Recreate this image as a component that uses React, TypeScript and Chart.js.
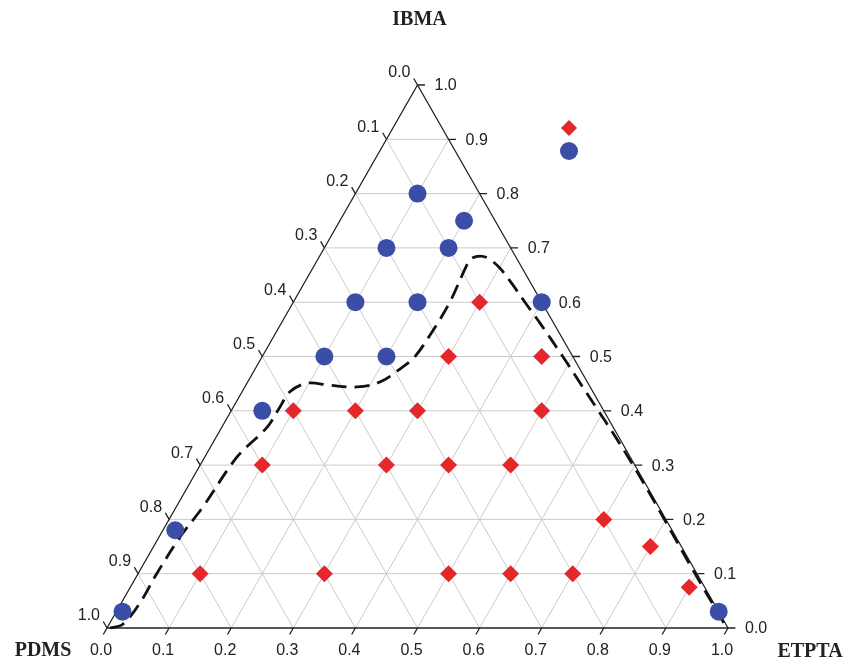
import React, { useEffect, useRef } from "react";
import { Chart, registerables } from "chart.js";

Chart.register(...registerables);

// Tick values along each side (fractions)
const tickValues = [0, 0.1, 0.2, 0.3, 0.4, 0.5, 0.6, 0.7, 0.8, 0.9, 1.0];
const tickLabels = ["0.0", "0.1", "0.2", "0.3", "0.4", "0.5", "0.6", "0.7", "0.8", "0.9", "1.0"];

// Red diamonds (ETPTA, IBMA fractions; PDMS = 1 - ETPTA - IBMA)
const redETPTA = [0.3, 0.3, 0.45, 0.1, 0.2, 0.3, 0.5, 0.1, 0.3, 0.4, 0.5, 0.7, 0.8, 0.9, 0.1, 0.3, 0.5, 0.6, 0.7];
const redIBMA = [0.6, 0.5, 0.5, 0.4, 0.4, 0.4, 0.4, 0.3, 0.3, 0.3, 0.3, 0.2, 0.15, 0.075, 0.1, 0.1, 0.1, 0.1, 0.1];

// Blue circles
const blueETPTA = [0.1, 0.2, 0.1, 0.2, 0.1, 0.2, 0.4, 0.1, 0.2, 0.05, 0.02, 0.01, 0.97];
const blueIBMA = [0.8, 0.75, 0.7, 0.7, 0.6, 0.6, 0.6, 0.5, 0.5, 0.4, 0.18, 0.03, 0.03];

// Dashed boundary curve
const curveETPTA = [0.005, 0.022, 0.03, 0.03, 0.034, 0.043, 0.052, 0.073, 0.075, 0.077, 0.097, 0.135, 0.181, 0.213, 0.236, 0.246, 0.251, 0.252, 0.245, 0.247, 0.258, 0.273, 0.301, 0.334, 0.373, 0.416, 0.485, 0.53, 0.693, 0.896, 0.996];
const curveIBMA = [0.0, 0.007, 0.046, 0.101, 0.168, 0.223, 0.315, 0.37, 0.407, 0.435, 0.451, 0.447, 0.444, 0.453, 0.481, 0.499, 0.549, 0.6, 0.672, 0.681, 0.685, 0.681, 0.663, 0.635, 0.6, 0.562, 0.499, 0.457, 0.304, 0.101, 0.002];

const H = Math.sqrt(3) / 2;
const toXY = (e: number, i: number) => ({ x: e + i / 2, y: i * H });
const GAP = { x: 0, y: null as any };

const RED = "#e5262b";
const BLUE = "#3a4ea7";

export default function App() {
  const ref = useRef<HTMLCanvasElement | null>(null);

  useEffect(() => {
    document.body.style.margin = "0";
    const canvas = ref.current!;

    // grid lines
    const grid: any[] = [];
    for (let k = 1; k <= 9; k++) {
      const v = tickValues[k];
      grid.push(toXY(0, v), toXY(1 - v, v), GAP);
      grid.push(toXY(v, 0), toXY(v, 1 - v), GAP);
      grid.push(toXY(0, 1 - v), toXY(1 - v, 0), GAP);
    }
    const edges = [toXY(0, 0), toXY(1, 0), toXY(0, 1), toXY(0, 0)];

    const L = 0.012;
    const ticks: any[] = [];
    tickValues.forEach((v) => {
      const a = toXY(0, 1 - v);
      ticks.push(a, { x: a.x - 0.5 * L, y: a.y + H * L }, GAP);
      const b = toXY(1 - v, v);
      ticks.push(b, { x: b.x + L, y: b.y }, GAP);
      const c = toXY(v, 0);
      ticks.push(c, { x: c.x - 0.5 * L, y: c.y - H * L }, GAP);
    });

    const red = redETPTA.map((e, i) => toXY(e, redIBMA[i]));
    const blue = blueETPTA.map((e, i) => toXY(e, blueIBMA[i]));
    const curve = curveETPTA.map((e, i) => toXY(e, curveIBMA[i]));

    const labelPlugin = {
      id: "ternaryLabels",
      afterDraw(chart: any) {
        const ctx = chart.ctx;
        const xs = chart.scales.x;
        const ys = chart.scales.y;
        const P = (p: { x: number; y: number }) => ({ x: xs.getPixelForValue(p.x), y: ys.getPixelForValue(p.y) });
        ctx.save();
        ctx.fillStyle = "#222";
        ctx.font = '16px "Liberation Sans", Arial, sans-serif';
        ctx.textBaseline = "middle";
        tickValues.forEach((v, k) => {
          const a = P(toXY(0, 1 - v));
          ctx.textAlign = "right";
          ctx.fillText(tickLabels[k], a.x - 7, a.y - 12);
          const b = P(toXY(1 - v, v));
          ctx.textAlign = "left";
          ctx.fillText(tickLabels[k], b.x + 17, b.y + 1);
          const c = P(toXY(v, 0));
          ctx.textAlign = "center";
          ctx.fillText(tickLabels[k], c.x - 6, c.y + 23);
        });
        ctx.font = 'bold 20px "Liberation Serif", "Times New Roman", serif';
        ctx.textAlign = "center";
        const top = P(toXY(0, 1));
        ctx.fillText("IBMA", top.x + 2, top.y - 65);
        const bl = P(toXY(0, 0));
        ctx.fillText("PDMS", bl.x - 64, bl.y + 23);
        const br = P(toXY(1, 0));
        ctx.fillText("ETPTA", br.x + 82, br.y + 24);

        // legend markers
        const area = chart.chartArea;
        const lx = area.right - 159;
        const ly1 = area.top + 43;
        const ly2 = area.top + 66;
        ctx.fillStyle = RED;
        ctx.beginPath();
        ctx.moveTo(lx, ly1 - 8);
        ctx.lineTo(lx + 8, ly1);
        ctx.lineTo(lx, ly1 + 8);
        ctx.lineTo(lx - 8, ly1);
        ctx.closePath();
        ctx.fill();
        ctx.fillStyle = BLUE;
        ctx.beginPath();
        ctx.arc(lx, ly2, 9, 0, Math.PI * 2);
        ctx.fill();
        ctx.restore();
      },
    };

    const chart = new Chart(canvas, {
      type: "scatter",
      data: {
        datasets: [
          { data: red, pointStyle: "rectRot", pointRadius: 8.5, backgroundColor: RED, borderColor: RED, borderWidth: 0, order: 0, clip: false } as any,
          { data: blue, pointStyle: "circle", pointRadius: 9, backgroundColor: BLUE, borderColor: BLUE, borderWidth: 0, order: 0, clip: false } as any,
          { data: curve, showLine: true, tension: 0.35, pointRadius: 0, borderColor: "#111", borderWidth: 2.8, borderDash: [15, 8], order: 1, clip: false } as any,
          { data: edges, showLine: true, tension: 0, pointRadius: 0, borderColor: "#222", borderWidth: 1.3, order: 2, clip: false } as any,
          { data: ticks, showLine: true, spanGaps: false, tension: 0, pointRadius: 0, borderColor: "#222", borderWidth: 1.3, order: 2, clip: false } as any,
          { data: grid, showLine: true, spanGaps: false, tension: 0, pointRadius: 0, borderColor: "#d0c9c9", borderWidth: 1, order: 3, clip: false } as any,
        ],
      },
      options: {
        animation: false,
        responsive: false,
        devicePixelRatio: 1,
        events: [],
        layout: { padding: { left: 107, right: 131, top: 85, bottom: 36 } },
        plugins: { legend: { display: false }, tooltip: { enabled: false } },
        scales: {
          x: { type: "linear", min: 0, max: 1, display: false },
          y: { type: "linear", min: 0, max: H, display: false },
        },
      },
      plugins: [labelPlugin],
    });
    return () => chart.destroy();
  }, []);

  return (
    <div style={{ width: 859, height: 664, background: "#fff" }}>
      <canvas ref={ref} width={859} height={664} style={{ display: "block" }} />
    </div>
  );
}
